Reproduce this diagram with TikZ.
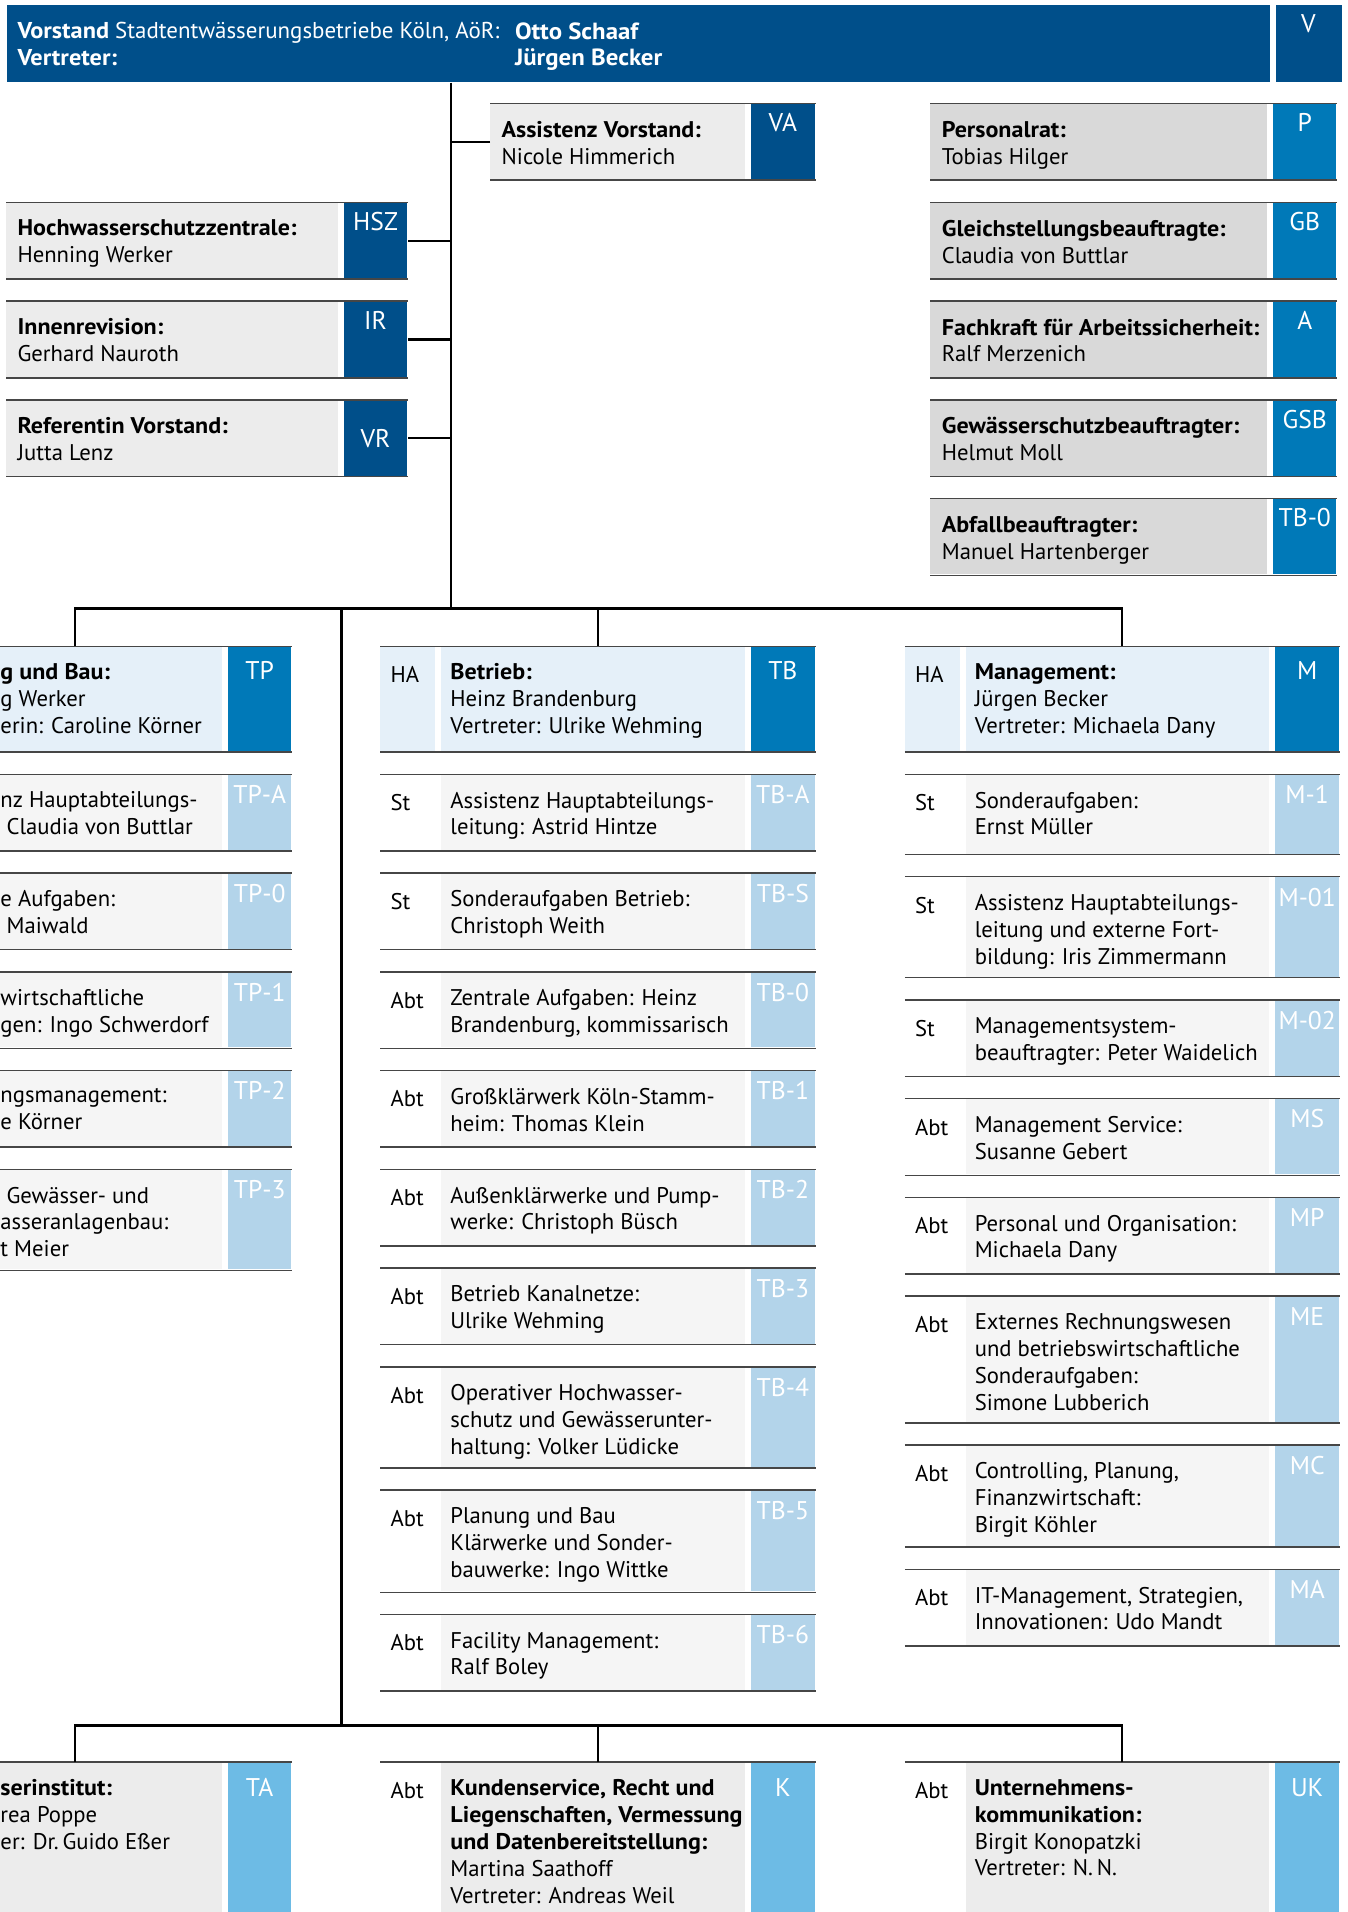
\documentclass[tikz,border=0pt]{standalone}
\usepackage{fontspec}
\setmainfont{PT Sans}[BoldFeatures={FakeStretch=1.06}]
\definecolor{vblue}{RGB}{0,79,138}
\definecolor{mblue}{RGB}{0,121,184}
\definecolor{lblue}{RGB}{179,212,234}
\definecolor{sblue}{RGB}{109,187,229}
\definecolor{pale}{RGB}{229,240,249}
\definecolor{subgray}{RGB}{245,245,245}
\definecolor{graya}{RGB}{236,236,236}
\definecolor{grayb}{RGB}{217,217,217}
\definecolor{rulegray}{RGB}{70,70,70}
\newcommand{\orgfont}{\fontsize{9.3}{11}\selectfont}
\newcommand{\codefont}{\fontsize{10.5}{12.6}\selectfont}
% column unit: name, left x, top y, height, scheme, label, text, code
\newcommand{\orgunit}[8]{%
  \path[#5 label] (#2,#3) rectangle ++(45,#4);
  \path[#5 body] ({#2+50},#3) rectangle ++(249,#4);
  \path[#5 code] ({#2+304},#3) rectangle ++(52,#4);
  \node[unit, minimum height={#4*0.5pt}] (#1) at (#2,#3) {};
  \draw[rule] (#1.north west) -- (#1.north east);
  \draw[rule] (#1.south west) -- (#1.south east);
  \node[txt] (#1-l) at ({#2+8},{#3+14}) {#6};
  \node[txt] (#1-t) at ({#2+57},{#3+14}) {#7};
  \node[codetxt, #5 shift] (#1-c) at ({#2+330},{#3+6}) {#8};
}
% staff unit: name, left x, body end, top y, scheme, text, code, code offset
\newcommand{\staffunit}[8]{%
  \path[#5 body] (#2,#4) rectangle (#3,{#4+62});
  \path[#5 code] ({#3+5},#4) rectangle ({#3+57},{#4+62});
  \node[staff, minimum width={(#3+57-#2)*0.5pt}] (#1) at (#2,#4) {};
  \draw[rule] (#1.north west) -- (#1.north east);
  \draw[rule] (#1.south west) -- (#1.south east);
  \node[txt] (#1-t) at ({#2+9},{#4+14}) {#6};
  \node[codetxt] (#1-c) at ({#3+31},{#4+#8}) {#7};
}
\begin{document}
\begin{tikzpicture}[x=0.5pt, y=-0.5pt,
    txt/.style={anchor=north west, inner sep=0pt, align=left, font=\orgfont, execute at begin node=\strut},
    codetxt/.style={anchor=north, inner sep=0pt, font=\codefont, text=white, execute at begin node=\strut},
    unit/.style={anchor=north west, inner sep=0pt, minimum width=178pt},
    staff/.style={anchor=north west, inner sep=0pt, minimum height=31pt},
    rule/.style={draw=rulegray, line width=0.6pt},
    link/.style={draw=black, line width=0.9pt},
    head label/.style={fill=pale}, head body/.style={fill=pale}, head code/.style={fill=mblue},
    head shift/.style={yshift=-1.5pt},
    sub label/.style={}, sub body/.style={fill=subgray}, sub code/.style={fill=lblue},
    sub shift/.style={},
    base label/.style={}, base body/.style={fill=graya}, base code/.style={fill=sblue},
    base shift/.style={yshift=-2pt},
    left body/.style={fill=graya}, left code/.style={fill=vblue},
    right body/.style={fill=grayb}, right code/.style={fill=mblue}]
  \clip (0,0) rectangle (1105,1568);

  % Vorstand
  \node[anchor=north west, inner sep=0pt, fill=vblue, minimum width=518pt, minimum height=31.5pt] (vorstand) at (5,4) {};
  \node[anchor=north west, inner sep=0pt, fill=vblue, minimum width=27pt, minimum height=31.5pt] (v) at (1046,4) {};
  \node[txt, text=white, font=\fontsize{9.4}{11}\selectfont] (vorstand-t) at (14,18) {\textbf{Vorstand} Stadtentwässerungsbetriebe Köln, AöR:\\\textbf{Vertreter:}};
  \node[txt, text=white, font=\fontsize{9.6}{11}\selectfont] (vorstand-n) at (422,18) {\textbf{Otto Schaaf}\\\textbf{Jürgen Becker}};
  \node[codetxt] (v-c) at (1073,9) {V};

  % Stabsstellen
  \staffunit{va}{402}{611}{85}{left}{\textbf{Assistenz Vorstand:}\\Nicole Himmerich}{VA}{5}
  \staffunit{hsz}{5}{277}{166}{left}{\textbf{Hochwasserschutzzentrale:}\\Henning Werker}{HSZ}{5}
  \staffunit{ir}{5}{277}{247}{left}{\textbf{Innenrevision:}\\Gerhard Nauroth}{IR}{5}
  \staffunit{vr}{5}{277}{328}{left}{\textbf{Referentin Vorstand:}\\Jutta Lenz}{VR}{21}
  \staffunit{p}{763}{1039}{85}{right}{\textbf{Personalrat:}\\Tobias Hilger}{P}{5}
  \staffunit{gb}{763}{1039}{166}{right}{\textbf{Gleichstellungsbeauftragte:}\\Claudia von Buttlar}{GB}{5}
  \staffunit{a}{763}{1039}{247}{right}{\textbf{Fachkraft für Arbeitssicherheit:}\\Ralf Merzenich}{A}{5}
  \staffunit{gsb}{763}{1039}{328}{right}{\textbf{Gewässerschutzbeauftragter:}\\Helmut Moll}{GSB}{5}
  \staffunit{abfall}{763}{1039}{409}{right}{\textbf{Abfallbeauftragter:}\\Manuel Hartenberger}{TB-0}{5}

  % Hauptabteilungen
  \orgunit{tp}{-117}{530}{86}{head}{}{}{TP}
  \orgunit{tb}{312}{530}{86}{head}{HA}{\textbf{Betrieb:}\\Heinz Brandenburg\\Vertreter: Ulrike Wehming}{TB}
  \orgunit{m}{742}{530}{86}{head}{HA}{\textbf{Management:}\\Jürgen Becker\\Vertreter: Michaela Dany}{M}

  \foreach \n/\y/\h/\c in {tpa/635/62/TP-A, tp0/716/62/TP-0, tp1/797/62/TP-1,
      tp2/878/62/TP-2, tp3/959/82/TP-3}
    \orgunit{\n}{-117}{\y}{\h}{sub}{}{}{\c};

  \foreach \n/\y/\h/\l/\t/\c in {
      tba/635/62/St/{Assistenz Hauptabteilungs-\\leitung: Astrid Hintze}/TB-A,
      tbs/716/62/St/{Sonderaufgaben Betrieb:\\Christoph Weith}/TB-S,
      tb0/797/62/Abt/{Zentrale Aufgaben: Heinz\\Brandenburg, kommissarisch}/TB-0,
      tb1/878/62/Abt/{Großklärwerk Köln-Stamm-\\heim: Thomas Klein}/TB-1,
      tb2/959/62/Abt/{Außenklärwerke und Pump-\\werke: Christoph Büsch}/TB-2,
      tb3/1040/62/Abt/{Betrieb Kanalnetze:\\Ulrike Wehming}/TB-3,
      tb4/1121/82/Abt/{Operativer Hochwasser-\\schutz und Gewässerunter-\\haltung: Volker Lüdicke}/TB-4,
      tb5/1222/83/Abt/{Planung und Bau\\Klärwerke und Sonder-\\bauwerke: Ingo Wittke}/TB-5,
      tb6/1324/62/Abt/{Facility Management:\\Ralf Boley}/TB-6}
    \orgunit{\n}{312}{\y}{\h}{sub}{\l}{\t}{\c};

  \foreach \n/\y/\h/\l/\t/\c in {
      m1/635/65/St/{Sonderaufgaben:\\Ernst Müller}/M-1,
      m01/719/82/St/{Assistenz Hauptabteilungs-\\leitung und externe Fort-\\bildung: Iris Zimmermann}/M-01,
      m02/820/62/St/{Managementsystem-\\beauftragter: Peter Waidelich}/M-02,
      ms/901/62/Abt/{Management Service:\\Susanne Gebert}/MS,
      mp/982/62/Abt/{Personal und Organisation:\\Michaela Dany}/MP,
      me/1063/103/Abt/{Externes Rechnungswesen\\und betriebswirtschaftliche\\Sonderaufgaben:\\Simone Lubberich}/ME,
      mc/1185/83/Abt/{Controlling, Planung,\\Finanzwirtschaft:\\Birgit Köhler}/MC,
      ma/1287/62/Abt/{IT-Management, Strategien,\\Innovationen: Udo Mandt}/MA}
    \orgunit{\n}{742}{\y}{\h}{sub}{\l}{\t}{\c};

  % untere Reihe
  \orgunit{ta}{-117}{1445}{140}{base}{}{}{TA}
  \orgunit{k}{312}{1445}{140}{base}{Abt}{\textbf{Kundenservice, Recht und}\\\textbf{Liegenschaften, Vermessung}\\\textbf{und Datenbereitstellung:}\\Martina Saathoff\\Vertreter: Andreas Weil}{K}
  \orgunit{uk}{742}{1445}{140}{base}{Abt}{\textbf{Unternehmens-}\\\textbf{kommunikation:}\\Birgit Konopatzki\\Vertreter: N.\,N.}{UK}

  % angeschnittene Texte links
  \foreach \y/\t in {544/{\textbf{g und Bau:}\\g Werker\\erin: Caroline Körner},
      649/{nz Hauptabteilungs-\\\hspace*{2.5pt}Claudia von Buttlar},
      730/{e Aufgaben:\\\hspace*{2.5pt}Maiwald},
      811/{wirtschaftliche\\gen: Ingo Schwerdorf},
      892/{ngsmanagement:\\e Körner},
      973/{\hspace*{2.5pt}Gewässer- und\\asseranlagenbau:\\t Meier},
      1459/{\textbf{serinstitut:}\\rea Poppe\\er: Dr.\,Guido Eßer}}
    \node[txt] (frag\y) at (0,\y) {\t};

  % Verbindungen
  \coordinate (hub) at (370,499);
  \coordinate (hub2) at (280,1415);
  \draw[link] (vorstand.south -| hub) -- (hub);
  \draw[link] (va.west) -- (va.west -| hub);
  \draw[link] (hsz.east) -- (hsz.east -| hub);
  \draw[link] (ir.east) -- (ir.east -| hub);
  \draw[link] (vr.east) -- (vr.east -| hub);
  \draw[link] (tp.north) |- (hub) -| (m.north);
  \draw[link] (hub -| tb.north) -- (tb.north);
  \draw[link] (hub2 |- hub) -- (hub2);
  \draw[link] (ta.north) |- (hub2) -| (uk.north);
  \draw[link] (hub2 -| k.north) -- (k.north);
\end{tikzpicture}
\end{document}
